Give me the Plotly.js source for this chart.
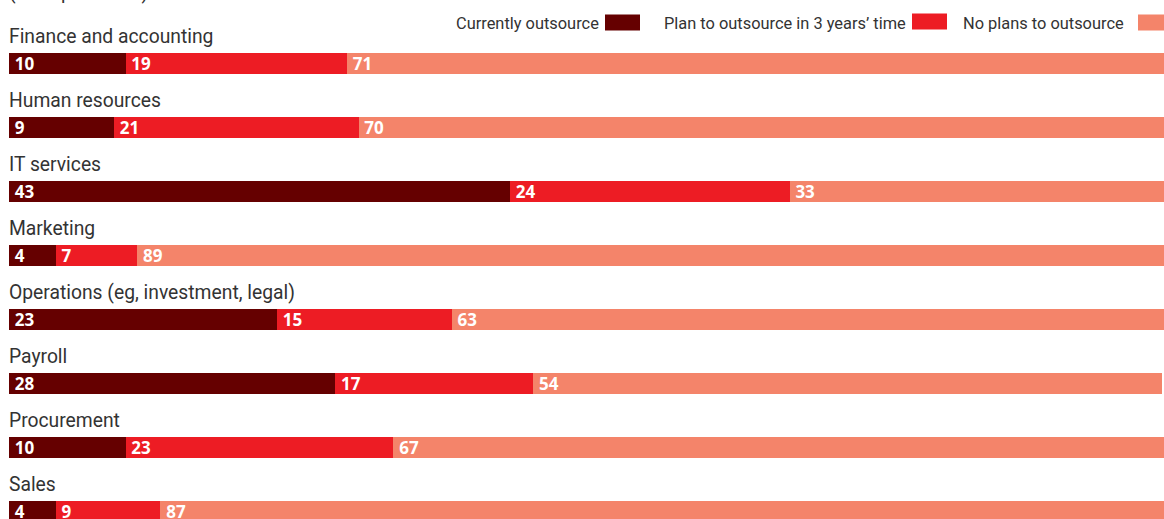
<!DOCTYPE html>
<html>
<head>
<meta charset="utf-8">
<script src="https://cdn.plot.ly/plotly-3.0.1.min.js"></script>
<style>
  html, body { margin: 0; padding: 0; background: #ffffff; }
  #chart { width: 1164px; height: 519px; }
</style>
</head>
<body>
<div id="chart"></div>
<script>
// ---- Data ----
const categories = [
  'Finance and accounting',
  'Human resources',
  'IT services',
  'Marketing',
  'Operations (eg, investment, legal)',
  'Payroll',
  'Procurement',
  'Sales'
];
const currentlyOutsource = [10, 9, 43, 4, 23, 28, 10, 4];
const planToOutsource    = [19, 21, 24, 7, 15, 17, 23, 9];
const noPlansToOutsource = [71, 70, 33, 89, 63, 54, 67, 87];
const seriesNames = ['Currently outsource', 'Plan to outsource in 3 years\u2019 time', 'No plans to outsource'];
const subtitle = '(% respondents)';

// ---- Styles ----
const colors = ['#650000', '#ed1c24', '#f4846a'];
const labelFont = 'Roboto, sans-serif';
const valueFont = 'Open Sans, sans-serif';
const W = 1164, H = 519;
const M = { l: 9, r: 0, t: 31.5, b: 0 };
const plotW = W - M.l - M.r, plotH = H - M.t - M.b;
const pxPerUnit = 11.65;

const px2x = px => (px - M.l) / plotW;
const px2y = py => (H - M.b - py) / plotH;

const seriesValues = [currentlyOutsource, planToOutsource, noPlansToOutsource];
const traces = seriesValues.map((vals, i) => ({
  type: 'bar',
  orientation: 'h',
  name: seriesNames[i],
  y: categories,
  x: vals,
  marker: { color: colors[i], line: { width: 0 } },
  texttemplate: '\u2009%{x}',
  textposition: 'inside',
  insidetextanchor: 'start',
  constraintext: 'none',
  textangle: 0,
  insidetextfont: { family: valueFont, size: 17, color: '#ffffff', weight: 700 },
  hoverinfo: 'name+x',
  showlegend: false
}));

const annotations = [];
categories.forEach(c => {
  annotations.push({
    xref: 'paper', yref: 'y', x: 0, y: c,
    xanchor: 'left', yanchor: 'bottom', yshift: 15.5, xshift: -0.5,
    text: c, showarrow: false, borderpad: 0, borderwidth: 0,
    font: { family: labelFont, size: 19.3, color: '#333333' }
  });
});
annotations.push({
  xref: 'paper', yref: 'paper', x: 0, y: 1,
  xanchor: 'left', yanchor: 'bottom', yshift: 27.7, xshift: -0.5,
  text: subtitle, showarrow: false, borderpad: 0, borderwidth: 0,
  font: { family: labelFont, size: 19.3, color: '#333333' }
});

// Legend: text followed by a swatch on its right
const legendItems = [
  { textEnd: 599, sw0: 605, sw1: 640, y0: 14, y1: 30 },
  { textEnd: 906, sw0: 912, sw1: 947, y0: 13, y1: 29 },
  { textEnd: 1124, sw0: 1138, sw1: 1173, y0: 14, y1: 30 }
];
const shapes = [];
legendItems.forEach((it, i) => {
  shapes.push({
    type: 'rect', xref: 'paper', yref: 'paper',
    x0: px2x(it.sw0), x1: px2x(it.sw1), y0: px2y(it.y1), y1: px2y(it.y0),
    fillcolor: colors[i], line: { width: 0 }
  });
  annotations.push({
    xref: 'paper', yref: 'paper', x: px2x(it.textEnd), y: px2y(23.4),
    xanchor: 'right', yanchor: 'middle', showarrow: false, borderpad: 0, borderwidth: 0,
    text: seriesNames[i],
    font: { family: labelFont, size: 16.4, color: '#333333' }
  });
});

const layout = {
  width: W, height: H,
  margin: M,
  paper_bgcolor: '#ffffff', plot_bgcolor: '#ffffff',
  barmode: 'stack',
  bargap: 1 - 21 / 64,
  showlegend: false,
  xaxis: { range: [0, plotW / pxPerUnit], visible: false, fixedrange: true },
  yaxis: {
    type: 'category', categoryorder: 'array', categoryarray: categories,
    range: [-0.5 + plotH / 64, -0.5], visible: false, fixedrange: true
  },
  annotations: annotations,
  shapes: shapes
};

Plotly.newPlot('chart', traces, layout, { displayModeBar: false, staticPlot: true });
</script>
</body>
</html>
